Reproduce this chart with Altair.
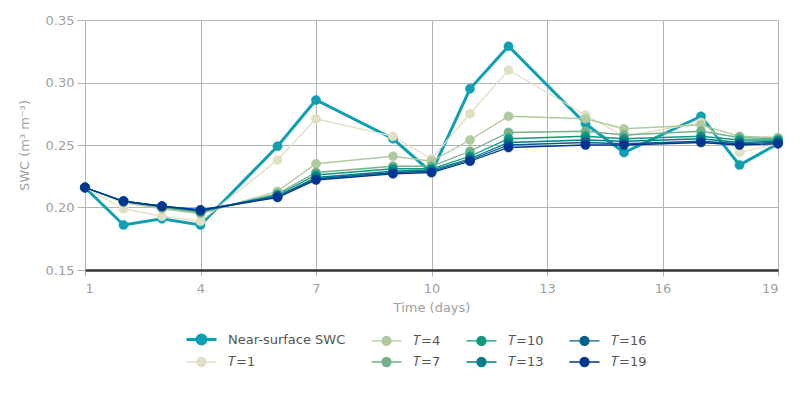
import altair as alt
import pandas as pd

days = [1, 2, 3, 4, 6, 7, 9, 10, 11, 12, 14, 15, 17, 18, 19]

series_names = ["Near-surface SWC", "𝑇=1", "𝑇=4", "𝑇=7", "𝑇=10", "𝑇=13", "𝑇=16", "𝑇=19"]
series_colors = ["#0e9fb1", "#e1dfc4", "#b1c99e", "#74b08a", "#0d9880", "#007e86", "#00608f", "#003591"]
series_widths = [3, 1.3, 1.3, 1.3, 1.3, 1.3, 1.3, 1.3]

near_surface = [0.216, 0.186, 0.191, 0.186, 0.249, 0.286, 0.255, 0.228, 0.295, 0.329, 0.267, 0.244, 0.273, 0.234, 0.251]
t1 = [0.216, 0.199, 0.193, 0.189, 0.238, 0.271, 0.257, 0.239, 0.275, 0.310, 0.274, 0.257, 0.268, 0.244, 0.251]
t4 = [0.216, 0.204, 0.199, 0.195, 0.213, 0.235, 0.241, 0.237, 0.254, 0.273, 0.271, 0.263, 0.266, 0.257, 0.256]
t7 = [0.216, 0.205, 0.200, 0.196, 0.211, 0.228, 0.233, 0.233, 0.245, 0.260, 0.261, 0.258, 0.261, 0.256, 0.255]
t10 = [0.216, 0.205, 0.201, 0.197, 0.210, 0.226, 0.231, 0.231, 0.241, 0.255, 0.257, 0.255, 0.257, 0.254, 0.254]
t13 = [0.216, 0.205, 0.201, 0.197, 0.209, 0.224, 0.229, 0.230, 0.239, 0.252, 0.254, 0.253, 0.255, 0.252, 0.253]
t16 = [0.216, 0.205, 0.201, 0.198, 0.209, 0.223, 0.228, 0.229, 0.238, 0.250, 0.252, 0.251, 0.253, 0.251, 0.252]
t19 = [0.216, 0.205, 0.201, 0.198, 0.208, 0.222, 0.227, 0.228, 0.237, 0.248, 0.250, 0.250, 0.252, 0.250, 0.251]

all_values = [near_surface, t1, t4, t7, t10, t13, t16, t19]

x_ticks = [1, 4, 7, 10, 13, 16, 19]
y_ticks = [0.15, 0.20, 0.25, 0.30, 0.35]

rows = []
for k, (name, vals) in enumerate(zip(series_names, all_values)):
    for d, v in zip(days, vals):
        rows.append({"day": d, "swc": v, "series": name, "k": k})
df = pd.DataFrame(rows)

sym_path = "M-1.5,0H1.5M0.45,0A0.45,0.45,0,1,1,-0.45,0A0.45,0.45,0,1,1,0.45,0Z"

legend = alt.Legend(
    title=None, orient="none", legendX=105, legendY=308, columns=4, direction="vertical",
    symbolType=sym_path, symbolSize=400, labelFont="DejaVu Sans", labelFontSize=13,
    labelColor="#555555", columnPadding=22, rowPadding=1, padding=0,
    labelOffset=15,
)

x_enc = alt.X("day:Q", scale=alt.Scale(domain=[1, 19], nice=False, zero=False),
              axis=alt.Axis(values=x_ticks, title="Time (days)", grid=True, gridColor="#b3b3b3",
                            domainColor="#2f3538", domainWidth=2.5, tickColor="#b3b3b3", tickSize=6,
                            labelColor="#a0a0a0", labelFontSize=13, labelFont="DejaVu Sans",
                            titleColor="#a0a0a0", titleFontSize=13, titleFont="DejaVu Sans",
                            titleFontWeight="normal", labelPadding=6, titlePadding=6))
y_enc = alt.Y("swc:Q", scale=alt.Scale(domain=[0.15, 0.35], nice=False, zero=False),
              axis=alt.Axis(values=y_ticks, format=".2f", title="SWC (m³ m⁻³)", grid=True,
                            gridColor="#b3b3b3", domain=False, tickColor="#b3b3b3", tickSize=8,
                            labelColor="#a0a0a0", labelFontSize=13, labelFont="DejaVu Sans",
                            titleColor="#a0a0a0", titleFontSize=13, titleFont="DejaVu Sans",
                            titleFontWeight="normal", labelPadding=3, titlePadding=14))

stroke_enc = alt.Stroke("series:N", scale=alt.Scale(domain=series_names, range=series_colors), legend=legend)
fill_enc = alt.Fill("series:N", scale=alt.Scale(domain=series_names, range=series_colors), legend=legend)
sw_enc = alt.StrokeWidth("series:N", scale=alt.Scale(type="ordinal", domain=series_names, range=series_widths),
                         legend=legend)

lines = alt.Chart(df).mark_line().encode(
    x=x_enc, y=y_enc, stroke=stroke_enc, strokeWidth=sw_enc, detail="series:N",
    order=alt.Order("day:Q"),
)
points = alt.Chart(df).mark_point(filled=True, opacity=1, size=85).encode(
    x=x_enc, y=y_enc, fill=fill_enc, stroke=stroke_enc,
    order=alt.Order("k:Q"),
)

chart = alt.layer(lines, points).properties(
    width=693, height=250,
    autosize=alt.AutoSizeParams(type="none"),
    padding={"left": 77, "top": 12, "right": 14, "bottom": 122},
).configure_view(stroke=None).configure_point(strokeWidth=0.5)

chart.save("out.html", embed_options={"renderer": "svg", "actions": False})
